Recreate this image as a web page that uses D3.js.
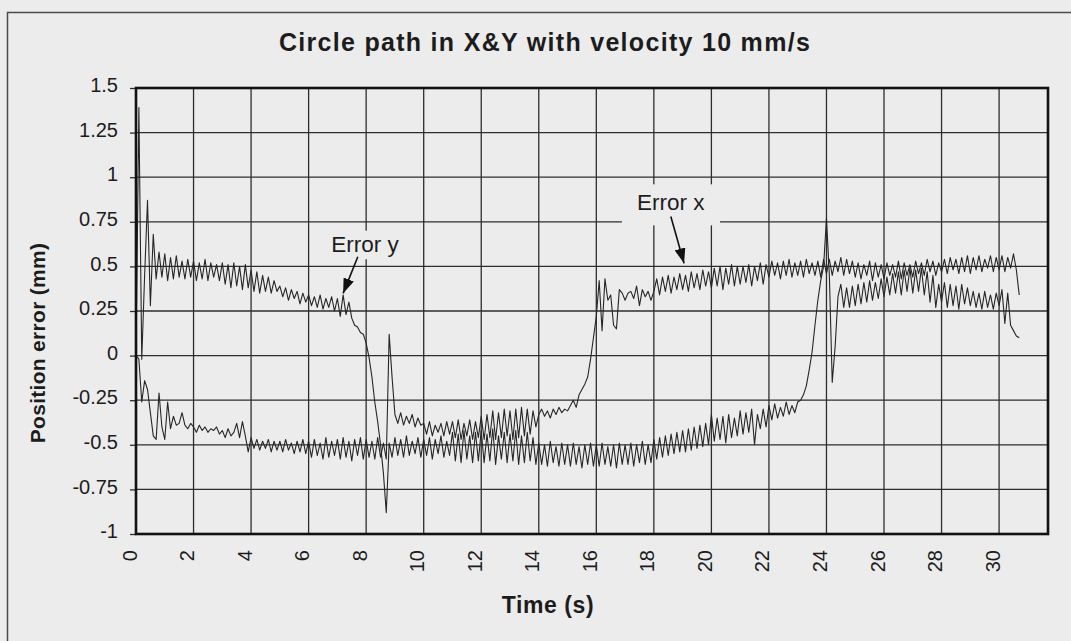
<!DOCTYPE html>
<html><head><meta charset="utf-8">
<script src="https://cdn.jsdelivr.net/npm/d3@7"></script>
<style>
body{margin:0;background:#ececec;}
svg{display:block;font-family:"Liberation Sans",Arial,Helvetica,sans-serif;}
</style>
</head><body>
<svg id="chart" width="1071" height="641"></svg>
<script>
// ---------------- data ----------------
const titleText = "Circle path in X&Y with velocity 10 mm/s";
const xTitle = "Time (s)";
const yTitle = "Position error (mm)";
const xTicks = [0,2,4,6,8,10,12,14,16,18,20,22,24,26,28,30];
const yTicks = [-1,-0.75,-0.5,-0.25,0,0.25,0.5,0.75,1,1.25,1.5];
const yTickLabels = ["-1","-0.75","-0.5","-0.25","0","0.25","0.5","0.75","1","1.25","1.5"];
const xMax = 31.7;

const timeS = [
0,0.1,0.2,0.3,0.4,0.5,0.6,0.7,0.8,0.9,
1,1.1,1.2,1.3,1.4,1.5,1.6,1.7,1.8,1.9,
2,2.1,2.2,2.3,2.4,2.5,2.6,2.7,2.8,2.9,
3,3.1,3.2,3.3,3.4,3.5,3.6,3.7,3.8,3.9,
4,4.1,4.2,4.3,4.4,4.5,4.6,4.7,4.8,4.9,
5,5.1,5.2,5.3,5.4,5.5,5.6,5.7,5.8,5.9,
6,6.1,6.2,6.3,6.4,6.5,6.6,6.7,6.8,6.9,
7,7.1,7.2,7.3,7.4,7.5,7.6,7.7,7.8,7.9,
8,8.1,8.2,8.3,8.4,8.5,8.6,8.7,8.8,8.9,
9,9.1,9.2,9.3,9.4,9.5,9.6,9.7,9.8,9.9,
10,10.1,10.2,10.3,10.4,10.5,10.6,10.7,10.8,10.9,
11,11.1,11.2,11.3,11.4,11.5,11.6,11.7,11.8,11.9,
12,12.1,12.2,12.3,12.4,12.5,12.6,12.7,12.8,12.9,
13,13.1,13.2,13.3,13.4,13.5,13.6,13.7,13.8,13.9,
14,14.1,14.2,14.3,14.4,14.5,14.6,14.7,14.8,14.9,
15,15.1,15.2,15.3,15.4,15.5,15.6,15.7,15.8,15.9,
16,16.1,16.2,16.3,16.4,16.5,16.6,16.7,16.8,16.9,
17,17.1,17.2,17.3,17.4,17.5,17.6,17.7,17.8,17.9,
18,18.1,18.2,18.3,18.4,18.5,18.6,18.7,18.8,18.9,
19,19.1,19.2,19.3,19.4,19.5,19.6,19.7,19.8,19.9,
20,20.1,20.2,20.3,20.4,20.5,20.6,20.7,20.8,20.9,
21,21.1,21.2,21.3,21.4,21.5,21.6,21.7,21.8,21.9,
22,22.1,22.2,22.3,22.4,22.5,22.6,22.7,22.8,22.9,
23,23.1,23.2,23.3,23.4,23.5,23.6,23.7,23.8,23.9,
24,24.1,24.2,24.3,24.4,24.5,24.6,24.7,24.8,24.9,
25,25.1,25.2,25.3,25.4,25.5,25.6,25.7,25.8,25.9,
26,26.1,26.2,26.3,26.4,26.5,26.6,26.7,26.8,26.9,
27,27.1,27.2,27.3,27.4,27.5,27.6,27.7,27.8,27.9,
28,28.1,28.2,28.3,28.4,28.5,28.6,28.7,28.8,28.9,
29,29.1,29.2,29.3,29.4,29.5,29.6,29.7,29.8,29.9,
30,30.1,30.2,30.3,30.4,30.5,30.6,30.7
];

const errorY = [
0.00,1.39,-0.02,0.45,0.87,0.28,0.68,0.43,0.58,0.44,
0.57,0.42,0.55,0.43,0.56,0.44,0.53,0.43,0.54,0.44,
0.53,0.42,0.52,0.43,0.54,0.42,0.52,0.44,0.51,0.42,
0.52,0.40,0.51,0.38,0.52,0.39,0.50,0.37,0.51,0.38,
0.48,0.36,0.47,0.35,0.45,0.36,0.44,0.35,0.42,0.36,
0.39,0.33,0.38,0.31,0.37,0.32,0.36,0.29,0.35,0.30,
0.34,0.28,0.33,0.27,0.34,0.26,0.32,0.27,0.33,0.25,
0.32,0.22,0.34,0.23,0.30,0.21,0.17,0.16,0.13,0.12,
0.07,-0.01,-0.12,-0.26,-0.37,-0.50,-0.66,-0.88,-0.49,-0.57,
-0.46,-0.56,-0.47,-0.57,-0.45,-0.56,-0.48,-0.55,-0.46,-0.57,
-0.47,-0.56,-0.46,-0.58,-0.47,-0.55,-0.45,-0.57,-0.48,-0.56,
-0.43,-0.59,-0.44,-0.60,-0.42,-0.58,-0.45,-0.60,-0.43,-0.59,
-0.42,-0.60,-0.44,-0.59,-0.41,-0.61,-0.45,-0.58,-0.43,-0.60,
-0.44,-0.59,-0.42,-0.61,-0.45,-0.60,-0.43,-0.59,-0.46,-0.61,
-0.49,-0.61,-0.50,-0.62,-0.48,-0.60,-0.51,-0.62,-0.49,-0.61,
-0.50,-0.62,-0.49,-0.61,-0.51,-0.63,-0.50,-0.61,-0.49,-0.62,
-0.50,-0.62,-0.49,-0.61,-0.51,-0.62,-0.50,-0.63,-0.49,-0.61,
-0.50,-0.61,-0.49,-0.62,-0.50,-0.60,-0.48,-0.61,-0.50,-0.60,
-0.47,-0.58,-0.46,-0.57,-0.45,-0.56,-0.44,-0.55,-0.43,-0.54,
-0.42,-0.54,-0.41,-0.53,-0.40,-0.52,-0.39,-0.51,-0.38,-0.50,
-0.33,-0.48,-0.35,-0.47,-0.34,-0.49,-0.33,-0.46,-0.35,-0.45,
-0.31,-0.44,-0.32,-0.43,-0.30,-0.50,-0.33,-0.41,-0.30,-0.40,
-0.28,-0.36,-0.27,-0.35,-0.29,-0.34,-0.26,-0.33,-0.28,-0.32,
-0.26,-0.25,-0.22,-0.17,-0.08,0.02,0.17,0.31,0.42,0.50,
0.77,0.45,-0.15,0.05,0.33,0.40,0.27,0.38,0.27,0.39,
0.28,0.40,0.29,0.41,0.30,0.42,0.31,0.41,0.32,0.43,
0.33,0.44,0.34,0.46,0.35,0.47,0.34,0.48,0.36,0.49,
0.35,0.48,0.36,0.49,0.34,0.47,0.30,0.45,0.27,0.40,
0.30,0.41,0.27,0.40,0.28,0.39,0.26,0.40,0.29,0.38,
0.28,0.36,0.27,0.35,0.26,0.36,0.27,0.34,0.26,0.35,
0.28,0.37,0.18,0.35,0.17,0.14,0.11,0.10
];

const errorX = [
0.00,-0.02,-0.26,-0.14,-0.19,-0.32,-0.45,-0.47,-0.21,-0.40,
-0.47,-0.26,-0.41,-0.34,-0.39,-0.38,-0.32,-0.39,-0.41,-0.38,
-0.40,-0.43,-0.39,-0.42,-0.40,-0.43,-0.41,-0.42,-0.40,-0.44,
-0.42,-0.46,-0.41,-0.45,-0.43,-0.38,-0.46,-0.37,-0.45,-0.54,
-0.46,-0.52,-0.47,-0.53,-0.48,-0.52,-0.47,-0.54,-0.48,-0.53,
-0.48,-0.54,-0.47,-0.53,-0.49,-0.55,-0.48,-0.54,-0.47,-0.55,
-0.48,-0.57,-0.47,-0.56,-0.49,-0.58,-0.46,-0.57,-0.48,-0.56,
-0.47,-0.58,-0.46,-0.57,-0.48,-0.59,-0.47,-0.56,-0.46,-0.58,
-0.47,-0.57,-0.48,-0.58,-0.46,-0.57,-0.49,-0.58,0.12,-0.12,
-0.33,-0.38,-0.32,-0.39,-0.34,-0.38,-0.33,-0.40,-0.35,-0.39,
-0.38,-0.44,-0.37,-0.45,-0.39,-0.43,-0.38,-0.45,-0.37,-0.44,
-0.37,-0.46,-0.36,-0.47,-0.38,-0.45,-0.36,-0.47,-0.37,-0.46,
-0.34,-0.47,-0.33,-0.46,-0.31,-0.47,-0.32,-0.46,-0.30,-0.45,
-0.31,-0.47,-0.30,-0.46,-0.29,-0.45,-0.30,-0.44,-0.31,-0.40,
-0.33,-0.30,-0.34,-0.31,-0.35,-0.30,-0.33,-0.29,-0.32,-0.30,
-0.31,-0.28,-0.25,-0.29,-0.22,-0.19,-0.16,-0.12,-0.02,0.10,
0.22,0.42,0.14,0.43,0.31,0.34,0.17,0.15,0.37,0.35,
0.31,0.35,0.36,0.32,0.39,0.28,0.37,0.33,0.36,0.31,
0.36,0.43,0.34,0.44,0.36,0.45,0.35,0.44,0.37,0.46,
0.37,0.45,0.36,0.47,0.38,0.46,0.37,0.48,0.39,0.47,
0.38,0.49,0.39,0.50,0.37,0.49,0.40,0.51,0.39,0.50,
0.40,0.50,0.41,0.51,0.39,0.50,0.42,0.52,0.40,0.51,
0.44,0.53,0.45,0.52,0.43,0.53,0.45,0.54,0.44,0.52,
0.45,0.53,0.44,0.54,0.46,0.52,0.45,0.53,0.44,0.54,
0.46,0.54,0.45,0.53,0.47,0.55,0.45,0.54,0.46,0.53,
0.44,0.52,0.43,0.51,0.45,0.53,0.42,0.52,0.44,0.51,
0.43,0.52,0.45,0.51,0.44,0.53,0.43,0.52,0.45,0.51,
0.44,0.53,0.46,0.52,0.45,0.54,0.47,0.53,0.45,0.52,
0.47,0.54,0.46,0.55,0.48,0.54,0.46,0.55,0.47,0.56,
0.46,0.55,0.48,0.56,0.47,0.54,0.49,0.56,0.47,0.55,
0.48,0.56,0.47,0.55,0.49,0.57,0.48,0.34
];

// annotations in data units (time s, error mm)
const annotationLabels = ["Error y","Error x"];
const annotationText = [[7.96,0.58],[18.59,0.816]];
const annotationArrowFrom = [[7.71,0.554],[18.59,0.78]];
const annotationArrowTo = [[7.2,0.349],[19.05,0.517]];
const annotationBox = [[6.7,9.25,0.70,0.54],[16.89,20.3,0.96,0.73]];

// ---------------- layout ----------------
const W = 1071, H = 641;
const plot = {left:136, top:88, right:1048, bottom:534};
const ink = "#1c1c1c";
const bg = "#ececec";

const svg = d3.select("#chart");
svg.append("rect").attr("width",W).attr("height",H).attr("fill",bg);
// outer chart border (extends beyond the picture at right/bottom)
svg.append("rect").attr("x",7.5).attr("y",12.5).attr("width",1100).attr("height",700)
  .attr("fill","none").attr("stroke","#4a4a4a").attr("stroke-width",1.5);

const x = d3.scaleLinear().domain([0,xMax]).range([plot.left,plot.right]);
const y = d3.scaleLinear().domain([-1,1.5]).range([plot.bottom,plot.top]);

// grid
const grid = svg.append("g").attr("stroke","#2e2e2e").attr("stroke-width",1.3);
grid.selectAll("line.v").data(xTicks.filter(d=>d>0)).join("line").attr("class","v")
  .attr("x1",d=>x(d)).attr("x2",d=>x(d)).attr("y1",plot.top).attr("y2",plot.bottom);
grid.selectAll("line.h").data(yTicks).join("line").attr("class","h")
  .attr("x1",plot.left).attr("x2",plot.right).attr("y1",d=>y(d)).attr("y2",d=>y(d));

// label boxes hiding the grid
svg.append("g").selectAll("rect").data(annotationBox).join("rect")
  .attr("x",d=>x(d[0])).attr("width",d=>x(d[1])-x(d[0]))
  .attr("y",d=>y(d[2])).attr("height",d=>y(d[3])-y(d[2]))
  .attr("fill",bg);

// axes
const yAxis = d3.axisLeft(y).tickValues(yTicks).tickSize(6).tickPadding(12)
  .tickFormat((d,i)=>yTickLabels[i]);
const gy = svg.append("g").attr("transform",`translate(${plot.left},0)`).call(yAxis);
gy.select(".domain").remove();
gy.selectAll(".tick line").attr("stroke","#2e2e2e").attr("stroke-width",1.3);
gy.selectAll(".tick text").attr("fill",ink).attr("font-size",20).attr("dy","0.18em")
  .attr("font-family","'Liberation Sans',Arial,sans-serif");

const xAxis = d3.axisBottom(x).tickValues(xTicks).tickSize(0).tickFormat(d=>String(d));
const gx = svg.append("g").attr("transform",`translate(0,${plot.bottom})`).call(xAxis);
gx.select(".domain").remove();
gx.selectAll(".tick text").attr("fill",ink).attr("font-size",20)
  .attr("font-family","'Liberation Sans',Arial,sans-serif")
  .attr("transform","rotate(-90)").attr("text-anchor","end")
  .attr("x",-16).attr("y",0).attr("dy",0);

// series
const line = d3.line().x((d,i)=>x(timeS[i])).y(d=>y(d));
const series = svg.append("g").attr("fill","none").attr("stroke","#262626")
  .attr("stroke-width",1.1).attr("stroke-linejoin","round");
series.append("path").datum(errorX).attr("d",line);
series.append("path").datum(errorY).attr("d",line);

// plot frame
svg.append("rect").attr("x",plot.left).attr("y",plot.top)
  .attr("width",plot.right-plot.left).attr("height",plot.bottom-plot.top)
  .attr("fill","none").attr("stroke","#111").attr("stroke-width",2.6);

// arrows
const defs = svg.append("defs");
defs.append("marker").attr("id","ah").attr("markerUnits","userSpaceOnUse")
  .attr("markerWidth",15).attr("markerHeight",11).attr("refX",15).attr("refY",5.5)
  .attr("orient","auto")
  .append("path").attr("d","M0,0 L15,5.5 L0,11 Z").attr("fill","#111");
svg.append("g").selectAll("line").data(annotationArrowFrom).join("line")
  .attr("x1",d=>x(d[0])).attr("y1",d=>y(d[1]))
  .attr("x2",(d,i)=>x(annotationArrowTo[i][0])).attr("y2",(d,i)=>y(annotationArrowTo[i][1]))
  .attr("stroke","#111").attr("stroke-width",1.6).attr("marker-end","url(#ah)");
svg.append("g").selectAll("text").data(annotationLabels).join("text")
  .attr("x",(d,i)=>x(annotationText[i][0])).attr("y",(d,i)=>y(annotationText[i][1]))
  .attr("text-anchor","middle").attr("font-size",22.5).attr("fill",ink).text(d=>d);

// titles
svg.append("text").attr("x",545).attr("y",51).attr("text-anchor","middle")
  .attr("font-size",25).attr("font-weight","bold").attr("letter-spacing",1.3)
  .attr("fill",ink).text(titleText);
svg.append("text").attr("x",548).attr("y",613).attr("text-anchor","middle")
  .attr("font-size",23).attr("font-weight","bold").attr("letter-spacing",0.6)
  .attr("fill",ink).text(xTitle);
svg.append("text").attr("transform","translate(45,343) rotate(-90)")
  .attr("text-anchor","middle").attr("font-size",21).attr("font-weight","bold")
  .attr("letter-spacing",0.3).attr("fill",ink).text(yTitle);
</script>
</body></html>
